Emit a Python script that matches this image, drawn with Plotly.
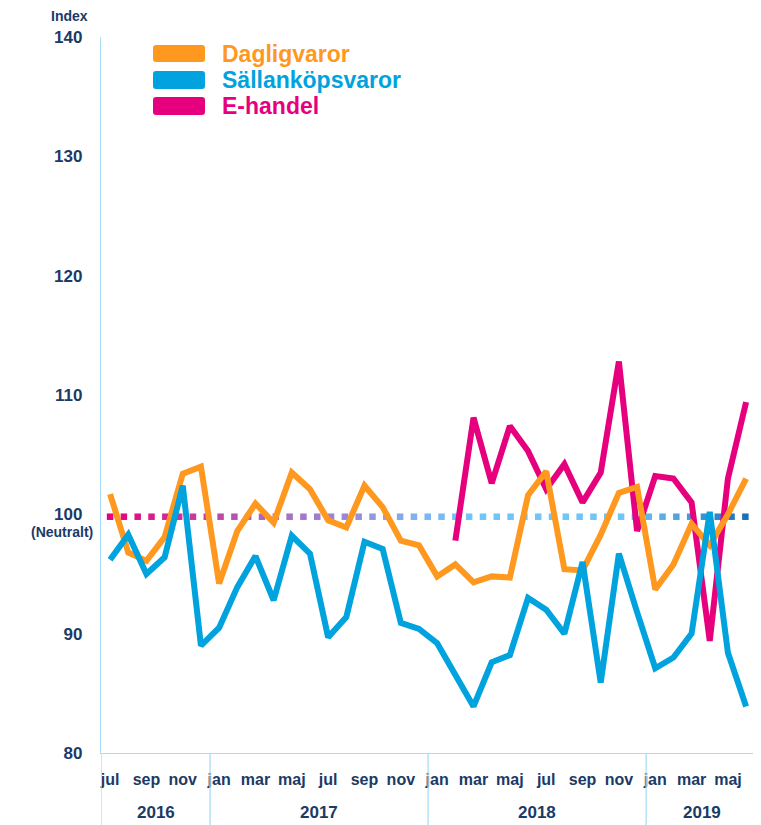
import numpy as np
import plotly.graph_objects as go

# ---------------- data ----------------
months = ["jul", "aug", "sep", "okt", "nov", "dec",
          "jan", "feb", "mar", "apr", "maj", "jun", "jul", "aug", "sep", "okt", "nov", "dec",
          "jan", "feb", "mar", "apr", "maj", "jun", "jul", "aug", "sep", "okt", "nov", "dec",
          "jan", "feb", "mar", "apr", "maj", "jun"]
tick_idx = [0, 2, 4, 6, 8, 10, 12, 14, 16, 18, 20, 22, 24, 26, 28, 30, 32, 34]
tick_text = ["jul", "sep", "nov", "jan", "mar", "maj", "jul", "sep", "nov",
             "jan", "mar", "maj", "jul", "sep", "nov", "jan", "mar", "maj"]
years = ["2016", "2017", "2018", "2019"]
year_bounds = [-0.5, 5.5, 17.5, 29.5, 35.6]

dagligvaror = [101.7, 96.8, 96.1, 98.1, 103.4, 104.0, 94.2, 98.6, 100.9, 99.3, 103.5, 102.1,
               99.5, 98.9, 102.4, 100.6, 97.8, 97.4, 94.8, 95.8, 94.3, 94.8, 94.7, 101.6,
               103.6, 95.4, 95.3, 98.3, 101.8, 102.3, 93.7, 95.8, 99.2, 97.4, 100.0, 103.0]
sallankop = [96.2, 98.3, 95.0, 96.4, 102.4, 89.0, 90.5, 93.9, 96.5, 92.8, 98.2, 96.7,
             89.7, 91.4, 97.7, 97.1, 90.9, 90.4, 89.2, 86.6, 83.9, 87.6, 88.2, 93.0,
             92.0, 90.0, 96.0, 85.9, 96.7, 91.8, 87.1, 88.0, 90.0, 100.2, 88.4, 83.9]
ehandel = [None] * 19 + [97.8, 108.1, 102.6, 107.4, 105.3, 102.1, 104.2, 101.0, 103.5,
                         112.8, 98.6, 103.2, 103.0, 101.0, 89.4, 103.0, 109.4]
neutral = 99.8

x = list(range(len(months)))

C_ORANGE = "#FF981E"
C_BLUE = "#00A3DD"
C_PINK = "#E6007E"
NAVY = "#1B3A66"
AXIS = "#A9DDF7"
FONT = "Liberation Sans"

# gradient stops for the neutral dotted line (index -> colour)
grad_pos = [0, 4, 8, 13, 17, 20, 28, 31, 35]
grad_col = ["#E6007E", "#D0309A", "#B060B8", "#9A88D8", "#7CB4F0",
            "#6EC6F8", "#6EC6F8", "#4FA8E4", "#1A70B8"]


def hex2rgb(h):
    h = h.lstrip("#")
    return [int(h[i:i + 2], 16) for i in (0, 2, 4)]


def grad_color(v):
    rgbs = np.array([hex2rgb(c) for c in grad_col], dtype=float)
    r = [np.interp(v, grad_pos, rgbs[:, k]) for k in range(3)]
    return "rgb(%d,%d,%d)" % tuple(int(round(c)) for c in r)


dot_x = np.arange(0, 35.01, 0.76)
dot_c = [grad_color(v) for v in dot_x]

fig = go.Figure()

fig.add_trace(go.Scatter(
    x=dot_x, y=[neutral] * len(dot_x), mode="markers",
    marker=dict(symbol="square", size=6.5, color=dot_c, line=dict(width=0)),
    showlegend=False, hoverinfo="skip"))

fig.add_trace(go.Scatter(x=x, y=ehandel, mode="lines", name="E-handel",
                         line=dict(color=C_PINK, width=6), showlegend=False))
fig.add_trace(go.Scatter(x=x, y=dagligvaror, mode="lines", name="Dagligvaror",
                         line=dict(color=C_ORANGE, width=6), showlegend=False))
fig.add_trace(go.Scatter(x=x, y=sallankop, mode="lines", name="Sällanköpsvaror",
                         line=dict(color=C_BLUE, width=6), showlegend=False))

# The page body has an 8px margin; work in window pixels and shift.
OFF = 8
FIG_W, FIG_H = 761 - OFF, 825 - OFF
L, R, T, B = 101, 757, 37, 753          # plot area in window pixels
W, H = R - L, B - T


def px(xp):
    return (xp - L) / W


def py(yp):
    return (B - yp) / H


def rounded_rect(x0, y0, x1, y1, r):
    # pixel box -> path in paper coordinates with rounded corners
    pts = []
    P = lambda a, b: "%.5f,%.5f" % (px(a), py(b))
    return ("M " + P(x0 + r, y0) + " L " + P(x1 - r, y0) + " Q " + P(x1, y0) + " " + P(x1, y0 + r) +
            " L " + P(x1, y1 - r) + " Q " + P(x1, y1) + " " + P(x1 - r, y1) +
            " L " + P(x0 + r, y1) + " Q " + P(x0, y1) + " " + P(x0, y1 - r) +
            " L " + P(x0, y0 + r) + " Q " + P(x0, y0) + " " + P(x0 + r, y0) + " Z")


shapes = []
annotations = []

# year separators below the axis
for xb in year_bounds:
    shapes.append(dict(type="line", xref="x", yref="paper", x0=xb, x1=xb,
                       y0=0, y1=py(825), line=dict(color=AXIS, width=1.3)))

# year labels
for i, yr in enumerate(years):
    annotations.append(dict(text=yr, xref="x", yref="paper",
                            x=(year_bounds[i] + year_bounds[i + 1]) / 2, y=py(812),
                            showarrow=False, xanchor="center", yanchor="middle",
                            font=dict(family=FONT, size=17, color=NAVY, weight="bold")))

# legend drawn as swatches + coloured text
leg = [("Dagligvaror", C_ORANGE, 45, 62),
       ("Sällanköpsvaror", C_BLUE, 71, 89),
       ("E-handel", C_PINK, 97, 115)]
for name, col, y0, y1 in leg:
    shapes.append(dict(type="path", xref="paper", yref="paper",
                       path=rounded_rect(153, y0, 205, y1, 3),
                       fillcolor=col, line=dict(width=0)))
    annotations.append(dict(text=name, xref="paper", yref="paper",
                            x=px(220), y=py((y0 + y1) / 2 + 0.5), showarrow=False,
                            xanchor="left", yanchor="middle",
                            font=dict(family=FONT, size=23, color=col, weight="bold")))

annotations.append(dict(text="Index", xref="paper", yref="paper", x=px(69), y=py(16),
                        showarrow=False, xanchor="center", yanchor="middle",
                        font=dict(family=FONT, size=14, color=NAVY, weight="bold")))
annotations.append(dict(text="(Neutralt)", xref="paper", yref="paper", x=px(62), y=py(532),
                        showarrow=False, xanchor="center", yanchor="middle",
                        font=dict(family=FONT, size=14, color=NAVY, weight="bold")))

fig.update_layout(
    width=FIG_W, height=FIG_H,
    margin=dict(l=L - OFF, r=761 - R, t=T - OFF, b=825 - B),
    paper_bgcolor="white", plot_bgcolor="white",
    shapes=shapes, annotations=annotations,
    showlegend=False,
    xaxis=dict(range=[-0.5, 35.6], tickvals=tick_idx, ticktext=tick_text,
               showgrid=False, zeroline=False, showline=True, linecolor=AXIS, linewidth=1.3,
               ticks="", ticklabelstandoff=12,
               tickfont=dict(family=FONT, size=16, color=NAVY, weight="bold")),
    yaxis=dict(range=[80, 140], tickvals=[80, 90, 100, 110, 120, 130, 140],
               showgrid=False, zeroline=False, showline=True, linecolor=AXIS, linewidth=1.3,
               ticks="", ticklabelstandoff=14,
               tickfont=dict(family=FONT, size=17, color=NAVY, weight="bold")),
)

fig.write_html("out.html")
